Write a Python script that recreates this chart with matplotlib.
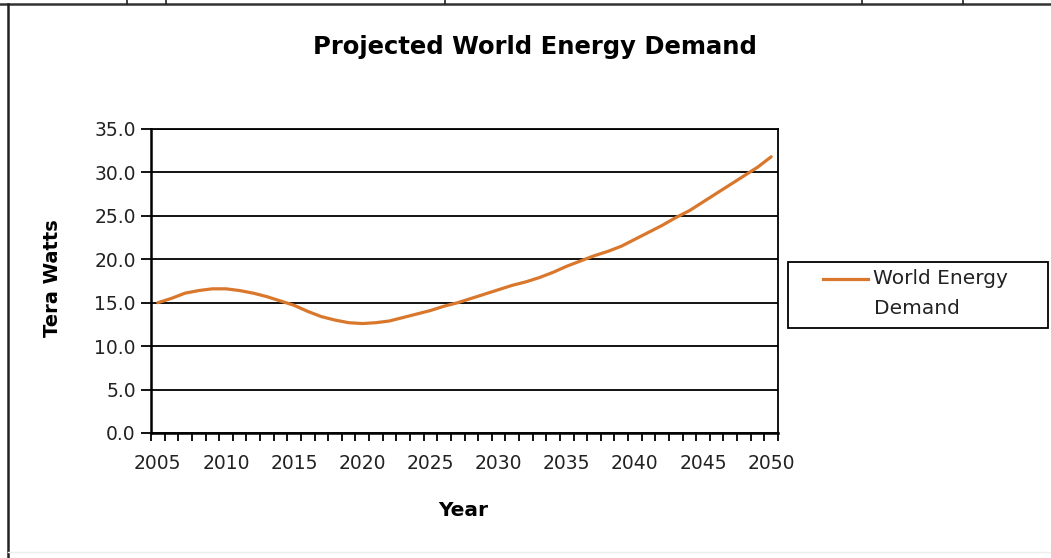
import matplotlib.pyplot as plt
from matplotlib.lines import Line2D
from matplotlib.patches import Rectangle
from matplotlib.ticker import FixedLocator, FormatStrFormatter

# projected demand, one value per year
years = list(range(2005, 2051))
demand = [
    15.0, 15.5, 16.1, 16.4, 16.6, 16.6, 16.4, 16.1, 15.7, 15.2,
    14.7, 14.0, 13.4, 13.0, 12.7, 12.6, 12.7, 12.9, 13.3, 13.7,
    14.1, 14.6, 15.0, 15.5, 16.0, 16.5, 17.0, 17.4, 17.9, 18.5,
    19.2, 19.8, 20.4, 20.9, 21.5, 22.3, 23.1, 23.9, 24.8, 25.6,
    26.6, 27.6, 28.6, 29.6, 30.6, 31.8,
]
y_ticks = [0, 5, 10, 15, 20, 25, 30, 35]
label_years = list(range(2005, 2051, 5))

line_color = "#D9782D"
W, H = 1051, 558

def fx(px):
    return px / W

def fy(py):
    return 1 - py / H

fig = plt.figure(figsize=(W / 100, H / 100), dpi=100)
fig.patch.set_facecolor("white")

ax = fig.add_axes([fx(151), fy(433), fx(778) - fx(151), fy(129) - fy(433)])
ax.plot(years, demand, color=line_color, linewidth=2.3, solid_capstyle="round")

ax.set_xlim(2004.5, 2050.5)
ax.set_ylim(0, 35)

# y axis: gridline at every 5
ax.yaxis.set_major_locator(FixedLocator(y_ticks))
ax.yaxis.set_major_formatter(FormatStrFormatter("%.1f"))
ax.grid(axis="y", color="black", linewidth=1.3)
ax.set_axisbelow(True)

# x axis: ticks on category boundaries, labels every 5 years
ax.xaxis.set_major_locator(FixedLocator(label_years))
ax.xaxis.set_minor_locator(FixedLocator([y - 0.5 for y in range(2005, 2052)]))
ax.tick_params(axis="x", which="major", length=0, pad=15)
ax.tick_params(axis="x", which="minor", direction="out", length=6, width=1.3)
ax.tick_params(axis="y", direction="out", length=7, width=1.3, pad=4)
ax.tick_params(labelsize=13.5, labelcolor="#222222")

for s in ax.spines.values():
    s.set_color("black")
    s.set_linewidth(1.3)
ax.spines["left"].set_linewidth(1.8)
ax.spines["bottom"].set_linewidth(1.8)

fig.text(fx(535), fy(47), "Projected World Energy Demand", ha="center", va="center",
         fontsize=17.5, fontweight="bold")
fig.text(fx(53), fy(278), "Tera Watts", ha="center", va="center", rotation=90,
         fontsize=14, fontweight="bold")
fig.text(fx(463), fy(511), "Year", ha="center", va="center",
         fontsize=14.5, fontweight="bold")

# legend box
fig.add_artist(Rectangle((fx(788), fy(328)), fx(1048) - fx(788), fy(262) - fy(328),
                         transform=fig.transFigure, facecolor="white",
                         edgecolor="black", linewidth=1.3))
fig.add_artist(Line2D([fx(823), fx(868)], [fy(279), fy(279)], transform=fig.transFigure,
                      color=line_color, linewidth=2.3))
fig.text(fx(873), fy(279), "World Energy", ha="left", va="center", fontsize=14.5,
         color="#222222")
fig.text(fx(874), fy(308), "Demand", ha="left", va="center", fontsize=14.5,
         color="#222222")

# page frame around the chart
fig.add_artist(Line2D([0, 1], [fy(4), fy(4)], transform=fig.transFigure,
                      color="#333333", linewidth=1.8))
fig.add_artist(Line2D([fx(8), fx(8)], [fy(4), 0], transform=fig.transFigure,
                      color="#222222", linewidth=1.8))
fig.add_artist(Line2D([fx(8), 1], [fy(552), fy(552)], transform=fig.transFigure,
                      color="#eeeeee", linewidth=1))
for px in [127, 166, 445, 862, 963]:
    fig.add_artist(Line2D([fx(px), fx(px)], [1, fy(4)], transform=fig.transFigure,
                          color="#222222", linewidth=1.2))

fig.savefig("out.png", dpi=100)
